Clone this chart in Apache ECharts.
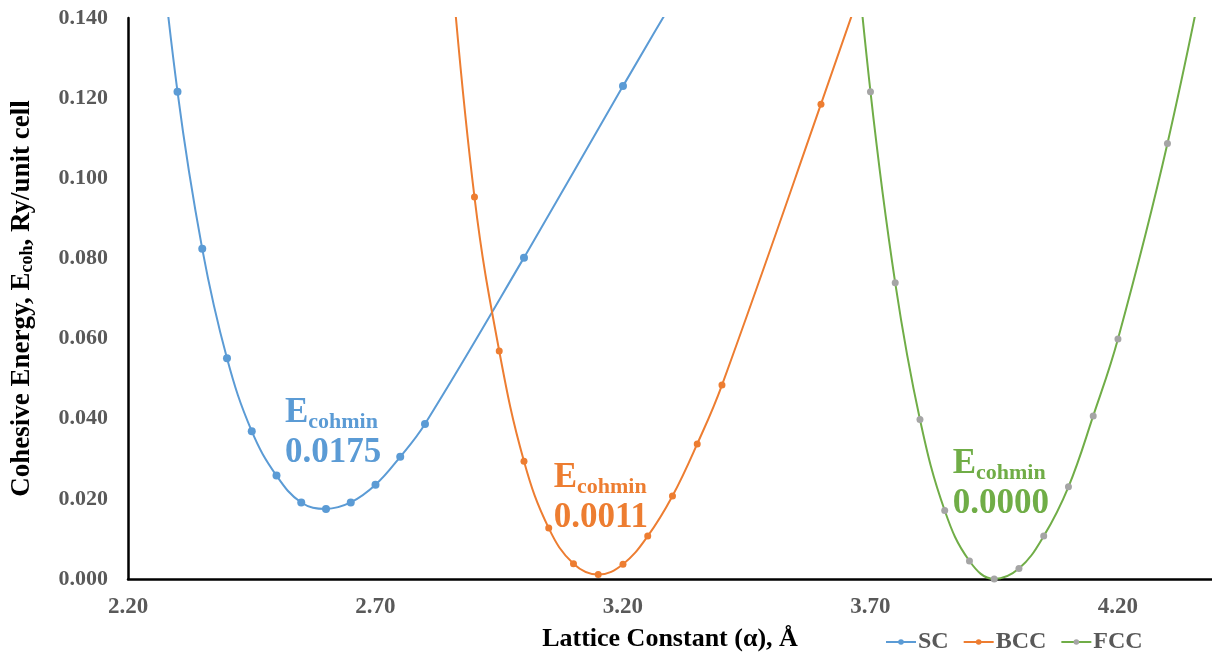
<!DOCTYPE html>
<html>
<head>
<meta charset="utf-8">
<title>Cohesive energy vs lattice constant</title>
<script src="https://cdn.jsdelivr.net/npm/echarts@6/dist/echarts.min.js"></script>
<style>
  html, body { margin: 0; padding: 0; background: #fff; }
  #chart { width: 1212px; height: 659px; }
</style>
</head>
<body>
<div id="chart"></div>
<script>
// lattice constant (Å) vs cohesive energy (Ry/unit cell)
// end points sit above 0.140, only the line leaving the top shows them
var scX = [2.25, 2.30, 2.35, 2.40, 2.45, 2.50, 2.55, 2.60, 2.65, 2.70, 2.75, 2.80, 3.00, 3.20, 3.40];
var scE = [0.177, 0.1216, 0.0824, 0.0551, 0.0369, 0.0258, 0.0191, 0.0175, 0.0191, 0.0235, 0.0305, 0.0387, 0.0802, 0.1230, 0.165];

var bccX = [2.85, 2.90, 2.95, 3.00, 3.05, 3.10, 3.15, 3.20, 3.25, 3.30, 3.35, 3.40, 3.60, 3.80];
var bccE = [0.158, 0.0953, 0.0569, 0.0294, 0.0127, 0.0038, 0.0011, 0.0037, 0.0107, 0.0207, 0.0337, 0.0484, 0.1185, 0.19];

var fccX = [3.65, 3.70, 3.75, 3.80, 3.85, 3.90, 3.95, 4.00, 4.05, 4.10, 4.15, 4.20, 4.30, 4.40];
var fccE = [0.185, 0.1216, 0.0739, 0.0398, 0.0171, 0.0045, 0.0000, 0.0026, 0.0107, 0.0230, 0.0407, 0.0599, 0.1087, 0.168];

var xTicks = [2.20, 2.70, 3.20, 3.70, 4.20];
var seriesNames = ['SC', 'BCC', 'FCC'];

var FONT = "'Liberation Serif', 'DejaVu Serif', serif";
var BLUE = '#5B9BD5', ORANGE = '#ED7D31', GREEN = '#70AD47', GREY = '#A5A5A5';

function pairs(xs, ys) {
  var out = [];
  for (var i = 0; i < xs.length; i++) out.push([xs[i], ys[i]]);
  return out;
}

// E_cohmin label, value taken from the smallest energy in the series
function minLabel(ys, color, coord) {
  var m = Math.min.apply(null, ys);
  var txt = { fontFamily: FONT, fontWeight: 'bold', color: color };
  return {
    symbol: 'circle',
    symbolSize: 0,
    silent: true,
    data: [{ coord: coord }],
    label: {
      show: true,
      position: [0, 0],
      formatter: '{E|E}{s|cohmin}\n{n|' + m.toFixed(4) + '}',
      rich: {
        E: Object.assign({ fontSize: 35, lineHeight: 38, verticalAlign: 'top' }, txt),
        s: Object.assign({ fontSize: 22, lineHeight: 22, verticalAlign: 'bottom' }, txt),
        n: Object.assign({ fontSize: 35, lineHeight: 38 }, txt)
      }
    }
  };
}

function lineSeries(name, xs, ys, lineColor, dotColor, size, anno) {
  return {
    name: name,
    type: 'line',
    data: pairs(xs, ys),
    smooth: 0.4,
    symbol: 'circle',
    symbolSize: size,
    clip: true,
    lineStyle: { color: lineColor, width: 2 },
    itemStyle: { color: dotColor },
    markPoint: anno
  };
}

var chart = echarts.init(document.getElementById('chart'));
chart.setOption({
  animation: false,
  grid: { left: 128, right: 0, top: 18, bottom: 80 },
  legend: {
    data: seriesNames,
    left: 880,
    top: 625,
    itemWidth: 30,
    itemHeight: 7,
    itemGap: 14,
    textStyle: { fontFamily: FONT, fontSize: 24, fontWeight: 'bold', color: '#595959', padding: [0, 0, 0, -3] }
  },
  xAxis: {
    type: 'value',
    min: 2.2,
    max: 4.39,
    name: 'Lattice Constant (α), Å',
    nameLocation: 'middle',
    nameGap: 47,
    nameTextStyle: { fontFamily: FONT, fontSize: 26, fontWeight: 'bold', color: '#000' },
    splitLine: { show: false },
    axisLine: { lineStyle: { color: '#000', width: 2.5 } },
    axisTick: { show: false },
    axisLabel: {
      customValues: xTicks,
      margin: 17,
      fontFamily: FONT,
      fontSize: 23,
      fontWeight: 'bold',
      color: '#595959',
      formatter: function (v) { return v.toFixed(2); }
    }
  },
  yAxis: {
    type: 'value',
    min: 0,
    max: 0.14,
    interval: 0.02,
    name: 'Cohesive Energy, E{sub|coh}, Ry/unit cell',
    nameLocation: 'middle',
    nameGap: 92,
    nameTextStyle: {
      fontFamily: FONT, fontSize: 27, fontWeight: 'bold', color: '#000',
      rich: { sub: { fontFamily: FONT, fontSize: 18, fontWeight: 'bold', color: '#000', verticalAlign: 'bottom', padding: [10, 0, 0, 0] } }
    },
    splitLine: { show: false },
    axisLine: { show: true, lineStyle: { color: '#000', width: 2.5 } },
    axisTick: { show: false },
    axisLabel: {
      margin: 20,
      fontFamily: FONT,
      fontSize: 22,
      fontWeight: 'bold',
      color: '#595959',
      formatter: function (v) { return v.toFixed(3); }
    }
  },
  series: [
    lineSeries('SC', scX, scE, BLUE, BLUE, 8, minLabel(scE, BLUE, [2.517, 0.0458])),
    lineSeries('BCC', bccX, bccE, ORANGE, ORANGE, 7, minLabel(bccE, ORANGE, [3.060, 0.0295])),
    lineSeries('FCC', fccX, fccE, GREEN, GREY, 7, minLabel(fccE, GREEN, [3.866, 0.0330]))
  ]
});
</script>
</body>
</html>
